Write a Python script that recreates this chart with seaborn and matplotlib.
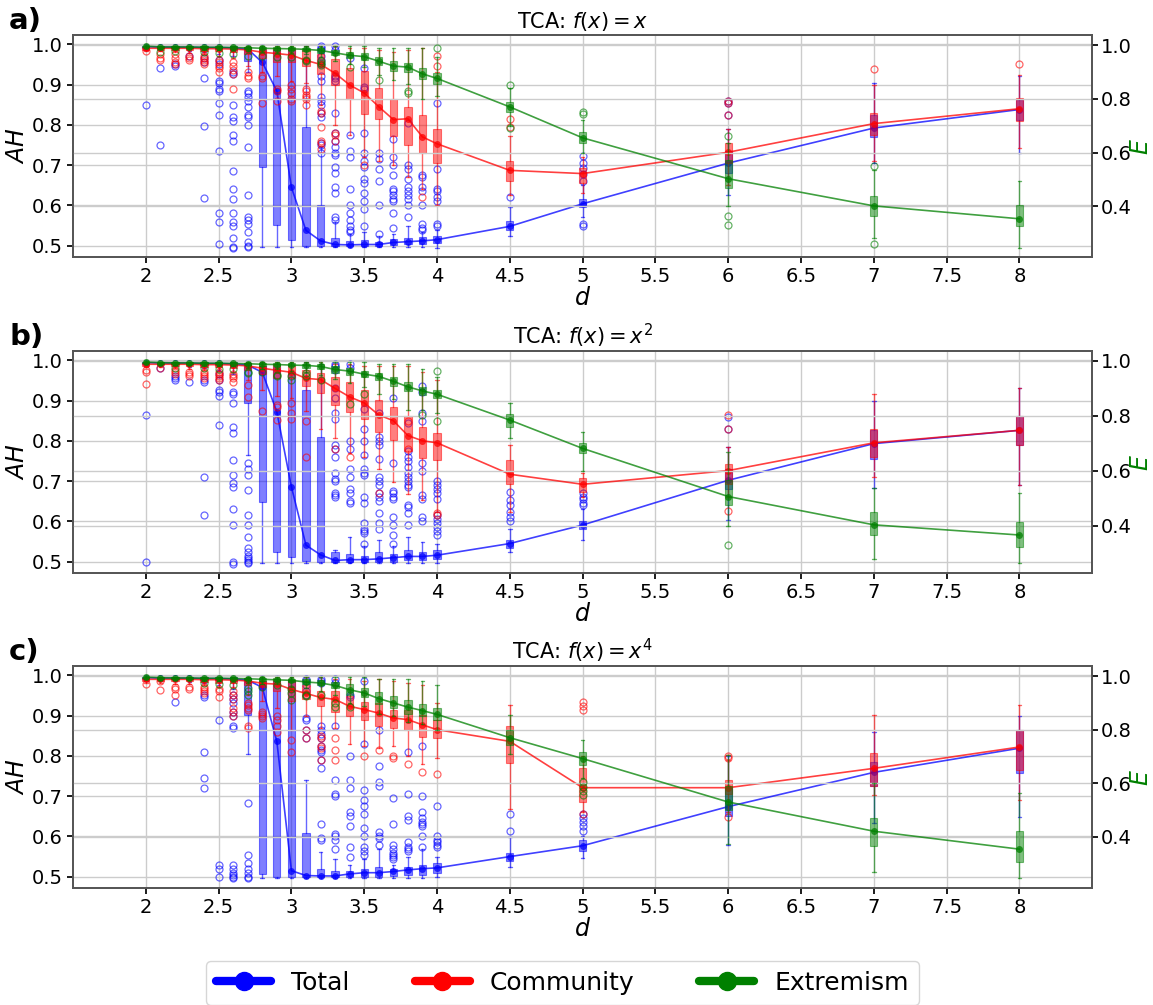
import matplotlib
matplotlib.use("Agg")
import matplotlib.pyplot as plt
from matplotlib.lines import Line2D
from matplotlib.ticker import FormatStrFormatter
import seaborn as sns

sns.set_theme(style="ticks", rc={"xtick.major.size": 4, "ytick.major.size": 4,
                                 "text.color": "black", "axes.labelcolor": "black",
                                 "xtick.color": "black", "ytick.color": "black"})
plt.rcParams["font.family"] = ["DejaVu Sans"]

D = [2.0, 2.1, 2.2, 2.3, 2.4, 2.5, 2.6, 2.7, 2.8, 2.9, 3.0, 3.1, 3.2, 3.3, 3.4,
     3.5, 3.6, 3.7, 3.8, 3.9, 4.0, 4.5, 5.0, 6.0, 7.0, 8.0]

# each row: (whisker low, q1, median, q3, whisker high)
# ---------------- a) f(x) = x ----------------
a_total = [
    (0.986, 0.991, 0.994, 0.996, 0.998), (0.985, 0.990, 0.993, 0.995, 0.998),
    (0.985, 0.990, 0.993, 0.995, 0.998), (0.984, 0.990, 0.993, 0.995, 0.998),
    (0.980, 0.989, 0.992, 0.995, 0.998), (0.975, 0.988, 0.992, 0.995, 0.998),
    (0.970, 0.985, 0.991, 0.995, 0.998), (0.930, 0.958, 0.988, 0.993, 0.998),
    (0.497, 0.695, 0.955, 0.985, 0.998), (0.497, 0.552, 0.884, 0.985, 0.998),
    (0.497, 0.513, 0.645, 0.985, 0.998), (0.496, 0.500, 0.538, 0.794, 0.995),
    (0.496, 0.500, 0.512, 0.600, 0.745), (0.496, 0.500, 0.503, 0.520, 0.560),
    (0.496, 0.500, 0.502, 0.512, 0.530), (0.496, 0.500, 0.503, 0.515, 0.535),
    (0.496, 0.500, 0.503, 0.510, 0.525), (0.496, 0.502, 0.508, 0.516, 0.530),
    (0.496, 0.503, 0.510, 0.520, 0.550), (0.496, 0.505, 0.512, 0.521, 0.535),
    (0.495, 0.506, 0.515, 0.525, 0.540), (0.525, 0.538, 0.548, 0.562, 0.597),
    (0.570, 0.595, 0.604, 0.617, 0.650), (0.625, 0.680, 0.705, 0.735, 0.790),
    (0.705, 0.770, 0.792, 0.825, 0.905), (0.730, 0.812, 0.838, 0.862, 0.920),
]
a_total_out = [
    [0.85], [0.94, 0.75], [0.945, 0.95], [0.97], [0.917, 0.797, 0.619, 0.955, 0.965],
    [0.91, 0.905, 0.89, 0.885, 0.855, 0.825, 0.735, 0.58, 0.56, 0.505, 0.95, 0.96],
    [0.93, 0.925, 0.85, 0.82, 0.81, 0.775, 0.76, 0.685, 0.64, 0.615, 0.58, 0.56, 0.55, 0.52, 0.497, 0.495],
    [0.885, 0.88, 0.87, 0.86, 0.845, 0.825, 0.82, 0.80, 0.745, 0.625, 0.57, 0.565, 0.555, 0.535, 0.51, 0.50, 0.497],
    [], [], [], [],
    [0.755, 0.75, 0.73, 0.83, 0.82, 0.85, 0.86, 0.87, 0.91, 0.92, 0.95, 0.96, 0.97, 0.985, 0.99, 0.995],
    [0.565, 0.57, 0.63, 0.645, 0.68, 0.695, 0.725, 0.73, 0.745, 0.76, 0.78, 0.83, 0.91, 0.915, 0.92, 0.985, 0.995],
    [0.535, 0.54, 0.55, 0.565, 0.58, 0.60, 0.64, 0.72, 0.735, 0.775, 0.965],
    [0.55, 0.59, 0.61, 0.63, 0.655, 0.665, 0.695, 0.71, 0.73, 0.78, 0.89, 0.895, 0.94],
    [0.53, 0.60, 0.66, 0.69, 0.715, 0.73],
    [0.545, 0.58, 0.61, 0.615, 0.625, 0.635, 0.64, 0.675, 0.70, 0.72, 0.765],
    [0.57, 0.60, 0.615, 0.625, 0.635, 0.645, 0.665, 0.69, 0.70, 0.805],
    [0.54, 0.545, 0.555, 0.60, 0.635, 0.645, 0.67, 0.675],
    [0.55, 0.555, 0.61, 0.62, 0.635, 0.64, 0.69, 0.855],
    [0.62], [0.555, 0.55, 0.66, 0.677, 0.694, 0.706, 0.722], [0.86, 0.855, 0.825], [], [],
]
a_comm = [
    (0.983, 0.986, 0.990, 0.993, 0.996), (0.982, 0.986, 0.990, 0.993, 0.996),
    (0.980, 0.986, 0.990, 0.993, 0.996), (0.978, 0.985, 0.990, 0.993, 0.996),
    (0.975, 0.984, 0.989, 0.993, 0.996), (0.970, 0.982, 0.989, 0.993, 0.996),
    (0.965, 0.980, 0.988, 0.992, 0.996), (0.945, 0.975, 0.986, 0.992, 0.996),
    (0.930, 0.965, 0.980, 0.988, 0.996), (0.920, 0.955, 0.977, 0.990, 0.996),
    (0.910, 0.955, 0.973, 0.990, 0.996), (0.905, 0.945, 0.960, 0.985, 0.996),
    (0.850, 0.925, 0.950, 0.975, 0.995), (0.800, 0.898, 0.928, 0.963, 0.995),
    (0.775, 0.865, 0.899, 0.942, 0.990), (0.720, 0.826, 0.879, 0.934, 0.990),
    (0.710, 0.815, 0.845, 0.892, 0.985), (0.700, 0.772, 0.813, 0.865, 0.980),
    (0.670, 0.751, 0.815, 0.844, 0.985), (0.640, 0.729, 0.770, 0.824, 0.990),
    (0.600, 0.706, 0.753, 0.790, 0.930), (0.626, 0.660, 0.687, 0.711, 0.773),
    (0.630, 0.655, 0.679, 0.693, 0.720), (0.650, 0.706, 0.732, 0.755, 0.790),
    (0.711, 0.775, 0.803, 0.830, 0.900), (0.742, 0.810, 0.840, 0.866, 0.923),
]
a_comm_out = [
    [0.982], [0.96, 0.965, 0.975], [0.95, 0.955, 0.965, 0.975], [0.96, 0.965, 0.97],
    [0.95, 0.955, 0.96, 0.965, 0.97], [0.93, 0.94, 0.945, 0.955, 0.96],
    [0.888, 0.925, 0.935, 0.945, 0.955], [0.915, 0.92, 0.93], [0.855, 0.915, 0.92],
    [0.86, 0.885, 0.89], [0.86, 0.865, 0.88, 0.89, 0.90], [0.85, 0.865, 0.87, 0.875, 0.885, 0.89],
    [0.835, 0.83, 0.795, 0.76, 0.755, 0.74], [0.78, 0.775, 0.76], [], [0.70], [], [], [],
    [0.62], [0.946, 0.97], [0.795, 0.815], [], [0.855, 0.86, 0.825], [0.938], [0.952],
]
a_ext = [
    (0.990, 0.993, 0.996, 0.998, 0.999), (0.985, 0.990, 0.993, 0.996, 0.998),
    (0.985, 0.990, 0.993, 0.996, 0.998), (0.985, 0.990, 0.993, 0.996, 0.998),
    (0.983, 0.989, 0.992, 0.995, 0.998), (0.980, 0.988, 0.992, 0.995, 0.998),
    (0.980, 0.987, 0.991, 0.995, 0.998), (0.978, 0.986, 0.990, 0.994, 0.998),
    (0.975, 0.984, 0.988, 0.993, 0.998), (0.970, 0.982, 0.987, 0.992, 0.998),
    (0.970, 0.981, 0.986, 0.992, 0.998), (0.965, 0.978, 0.984, 0.990, 0.998),
    (0.955, 0.972, 0.980, 0.988, 0.998), (0.940, 0.962, 0.971, 0.982, 0.998),
    (0.930, 0.952, 0.962, 0.975, 0.995), (0.920, 0.945, 0.957, 0.970, 0.995),
    (0.890, 0.925, 0.940, 0.955, 0.990), (0.870, 0.905, 0.922, 0.940, 0.990),
    (0.855, 0.900, 0.918, 0.935, 0.990), (0.800, 0.875, 0.893, 0.915, 0.990),
    (0.810, 0.855, 0.876, 0.895, 0.955), (0.698, 0.750, 0.770, 0.790, 0.840),
    (0.600, 0.635, 0.655, 0.675, 0.720), (0.400, 0.468, 0.503, 0.574, 0.636),
    (0.282, 0.366, 0.402, 0.437, 0.537), (0.245, 0.328, 0.354, 0.404, 0.493),
]
a_ext_out = [
    [], [0.975], [0.978], [], [0.975], [0.97], [0.965], [0.96], [0.96], [0.955], [0.955],
    [0.94, 0.945], [0.925, 0.935, 0.94], [], [0.92], [], [0.87], [], [0.822, 0.83], [],
    [0.99], [0.853, 0.69], [0.745, 0.75], [0.66, 0.365, 0.332], [0.549, 0.26], [],
]

# ---------------- b) f(x) = x^2 ----------------
b_total = [
    (0.986, 0.991, 0.994, 0.996, 0.998), (0.985, 0.990, 0.993, 0.995, 0.998),
    (0.985, 0.990, 0.993, 0.995, 0.998), (0.984, 0.990, 0.993, 0.995, 0.998),
    (0.980, 0.989, 0.992, 0.995, 0.998), (0.975, 0.988, 0.992, 0.995, 0.998),
    (0.965, 0.985, 0.991, 0.995, 0.998), (0.765, 0.894, 0.988, 0.993, 0.998),
    (0.497, 0.649, 0.970, 0.985, 0.998), (0.497, 0.525, 0.872, 0.982, 0.998),
    (0.497, 0.512, 0.686, 0.970, 0.998), (0.497, 0.502, 0.541, 0.926, 0.995),
    (0.497, 0.500, 0.517, 0.810, 0.990), (0.497, 0.500, 0.503, 0.525, 0.530),
    (0.497, 0.500, 0.505, 0.520, 0.562), (0.497, 0.500, 0.505, 0.515, 0.540),
    (0.497, 0.500, 0.507, 0.525, 0.555), (0.497, 0.500, 0.510, 0.520, 0.540),
    (0.497, 0.505, 0.513, 0.530, 0.560), (0.497, 0.505, 0.513, 0.525, 0.548),
    (0.497, 0.507, 0.516, 0.530, 0.545), (0.525, 0.535, 0.545, 0.555, 0.580),
    (0.554, 0.580, 0.591, 0.602, 0.630), (0.603, 0.680, 0.702, 0.730, 0.785),
    (0.682, 0.756, 0.793, 0.826, 0.900), (0.690, 0.790, 0.826, 0.862, 0.930),
]
b_total_out = [
    [0.865, 0.50], [0.98], [0.95, 0.955, 0.96], [0.945], [0.945, 0.95, 0.71, 0.617],
    [0.92, 0.925, 0.91, 0.84, 0.95, 0.965],
    [0.92, 0.915, 0.895, 0.835, 0.82, 0.752, 0.715, 0.695, 0.685, 0.63, 0.59, 0.50, 0.495],
    [0.745, 0.73, 0.715, 0.678, 0.615, 0.59, 0.56, 0.535, 0.525, 0.515, 0.51, 0.505, 0.50, 0.497],
    [], [], [], [], [],
    [0.66, 0.665, 0.67, 0.70, 0.705, 0.72, 0.76, 0.78, 0.79, 0.855, 0.87, 0.905, 0.93, 0.975, 0.985, 0.99],
    [0.645, 0.65, 0.67, 0.68, 0.71, 0.73, 0.78, 0.80, 0.98, 0.99],
    [0.545, 0.57, 0.575, 0.58, 0.595, 0.645, 0.66, 0.715, 0.72, 0.73, 0.765, 0.80, 0.83, 0.88],
    [0.58, 0.595, 0.62, 0.65, 0.66, 0.67, 0.69, 0.70, 0.71, 0.755, 0.79, 0.80, 0.81, 0.87],
    [0.545, 0.565, 0.59, 0.61, 0.655, 0.66, 0.67, 0.675, 0.745, 0.905],
    [0.59, 0.62, 0.635, 0.64, 0.685, 0.69, 0.70, 0.71, 0.72, 0.735, 0.75, 0.76, 0.775, 0.845],
    [0.60, 0.61, 0.655, 0.665, 0.725, 0.745, 0.85, 0.87, 0.92, 0.935],
    [0.565, 0.575, 0.585, 0.595, 0.605, 0.615, 0.655, 0.67, 0.68, 0.69, 0.70],
    [0.60, 0.612, 0.624, 0.64, 0.653, 0.673], [0.64, 0.645, 0.655, 0.66, 0.67],
    [0.83, 0.86], [], [],
]
b_comm = [
    (0.982, 0.986, 0.990, 0.993, 0.996), (0.984, 0.987, 0.990, 0.993, 0.996),
    (0.980, 0.986, 0.990, 0.993, 0.996), (0.978, 0.985, 0.990, 0.993, 0.996),
    (0.975, 0.984, 0.989, 0.993, 0.996), (0.972, 0.982, 0.989, 0.993, 0.996),
    (0.970, 0.980, 0.988, 0.992, 0.996), (0.950, 0.975, 0.986, 0.992, 0.996),
    (0.925, 0.965, 0.980, 0.986, 0.996), (0.910, 0.955, 0.975, 0.990, 0.996),
    (0.905, 0.955, 0.970, 0.985, 0.996), (0.875, 0.935, 0.955, 0.975, 0.995),
    (0.830, 0.919, 0.952, 0.969, 0.995), (0.806, 0.888, 0.930, 0.959, 0.990),
    (0.770, 0.872, 0.909, 0.946, 0.990), (0.760, 0.855, 0.894, 0.926, 0.985),
    (0.730, 0.822, 0.864, 0.902, 0.985), (0.698, 0.802, 0.850, 0.883, 0.985),
    (0.667, 0.775, 0.813, 0.861, 0.985), (0.652, 0.758, 0.800, 0.835, 0.970),
    (0.624, 0.752, 0.795, 0.820, 0.950), (0.624, 0.694, 0.717, 0.752, 0.790),
    (0.660, 0.674, 0.692, 0.707, 0.720), (0.660, 0.694, 0.726, 0.742, 0.785),
    (0.711, 0.760, 0.795, 0.830, 0.915), (0.690, 0.790, 0.826, 0.862, 0.931),
]
b_comm_out = [
    [0.94, 0.97, 0.975], [0.98], [0.965, 0.97, 0.975], [0.96, 0.965, 0.97],
    [0.955, 0.96, 0.965, 0.97], [0.95, 0.955, 0.96, 0.965, 0.97], [0.945, 0.955, 0.96, 0.965],
    [0.909, 0.938], [0.874], [0.851, 0.885, 0.89], [0.855, 0.87, 0.895], [0.85, 0.76], [],
    [0.78], [0.76], [], [0.67], [], [0.85, 0.78], [], [0.615, 0.62], [], [],
    [0.864, 0.83, 0.626], [], [],
]
b_ext = [
    (0.990, 0.993, 0.996, 0.998, 0.999), (0.985, 0.990, 0.994, 0.996, 0.998),
    (0.985, 0.990, 0.993, 0.996, 0.998), (0.985, 0.990, 0.993, 0.996, 0.998),
    (0.983, 0.989, 0.992, 0.995, 0.998), (0.980, 0.988, 0.992, 0.995, 0.998),
    (0.980, 0.987, 0.991, 0.995, 0.998), (0.975, 0.985, 0.990, 0.994, 0.998),
    (0.972, 0.983, 0.988, 0.993, 0.998), (0.970, 0.982, 0.987, 0.992, 0.998),
    (0.965, 0.980, 0.985, 0.991, 0.998), (0.960, 0.976, 0.984, 0.990, 0.998),
    (0.950, 0.970, 0.980, 0.988, 0.998), (0.935, 0.958, 0.969, 0.980, 0.997),
    (0.920, 0.950, 0.963, 0.975, 0.995), (0.905, 0.940, 0.952, 0.965, 0.995),
    (0.880, 0.930, 0.944, 0.958, 0.990), (0.860, 0.910, 0.926, 0.943, 0.990),
    (0.820, 0.890, 0.906, 0.925, 0.990), (0.820, 0.875, 0.891, 0.905, 0.970),
    (0.810, 0.865, 0.879, 0.895, 0.940), (0.720, 0.761, 0.785, 0.807, 0.848),
    (0.600, 0.664, 0.682, 0.700, 0.740), (0.398, 0.476, 0.507, 0.567, 0.670),
    (0.280, 0.367, 0.404, 0.449, 0.537), (0.266, 0.325, 0.367, 0.416, 0.519),
]
b_ext_out = [
    [], [], [0.975], [], [0.975], [0.97], [0.97], [0.955, 0.96], [0.96], [0.945, 0.95],
    [0.93, 0.945], [0.945, 0.955], [0.93], [], [0.843], [0.879], [], [], [], [0.803],
    [0.962, 0.782], [], [], [0.329], [], [],
]

# ---------------- c) f(x) = x^4 ----------------
c_total = [
    (0.986, 0.991, 0.994, 0.996, 0.998), (0.985, 0.990, 0.993, 0.995, 0.998),
    (0.985, 0.990, 0.993, 0.995, 0.998), (0.984, 0.990, 0.993, 0.995, 0.998),
    (0.980, 0.989, 0.992, 0.995, 0.998), (0.975, 0.988, 0.992, 0.995, 0.998),
    (0.965, 0.985, 0.991, 0.995, 0.998), (0.805, 0.902, 0.988, 0.993, 0.998),
    (0.497, 0.508, 0.970, 0.985, 0.998), (0.497, 0.500, 0.836, 0.985, 0.998),
    (0.497, 0.500, 0.515, 0.985, 0.998), (0.497, 0.500, 0.503, 0.609, 0.740),
    (0.497, 0.500, 0.502, 0.520, 0.562), (0.497, 0.500, 0.502, 0.515, 0.545),
    (0.497, 0.500, 0.507, 0.515, 0.530), (0.497, 0.500, 0.510, 0.520, 0.545),
    (0.497, 0.500, 0.510, 0.525, 0.570), (0.497, 0.502, 0.513, 0.520, 0.530),
    (0.497, 0.505, 0.517, 0.525, 0.550), (0.497, 0.505, 0.520, 0.530, 0.570),
    (0.500, 0.510, 0.522, 0.535, 0.550), (0.523, 0.540, 0.550, 0.560, 0.598),
    (0.547, 0.565, 0.577, 0.590, 0.600), (0.579, 0.650, 0.674, 0.720, 0.800),
    (0.633, 0.724, 0.759, 0.784, 0.860), (0.649, 0.757, 0.819, 0.865, 0.900),
]
c_total_out = [
    [], [], [0.933], [], [0.95, 0.945, 0.81, 0.746, 0.72], [0.888, 0.53, 0.52, 0.50],
    [0.95, 0.94, 0.93, 0.91, 0.90, 0.875, 0.87, 0.53, 0.52, 0.51, 0.505, 0.50, 0.497],
    [0.682, 0.555, 0.535, 0.52, 0.51, 0.50, 0.497],
    [], [], [],
    [0.845, 0.865, 0.89, 0.895, 0.95, 0.96, 0.975, 0.985, 0.99],
    [0.59, 0.595, 0.63, 0.77, 0.79, 0.81, 0.815, 0.825, 0.845, 0.855, 0.865, 0.875, 0.98, 0.985, 0.99],
    [0.57, 0.59, 0.60, 0.605, 0.70, 0.705, 0.74, 0.875, 0.98, 0.99],
    [0.55, 0.575, 0.625, 0.65, 0.66, 0.72, 0.74, 0.80, 0.945, 0.95],
    [0.555, 0.565, 0.575, 0.60, 0.62, 0.655, 0.675, 0.69, 0.715, 0.83, 0.985],
    [0.58, 0.595, 0.60, 0.61, 0.725, 0.735, 0.775, 0.865],
    [0.545, 0.55, 0.555, 0.56, 0.57, 0.58, 0.63, 0.695],
    [0.565, 0.57, 0.575, 0.585, 0.64, 0.65, 0.705, 0.81],
    [0.575, 0.60, 0.625, 0.63, 0.635, 0.645, 0.66, 0.70, 0.825],
    [0.575, 0.58, 0.585, 0.59, 0.60, 0.675],
    [0.614, 0.655], [0.614, 0.625, 0.635, 0.645, 0.655], [], [], [],
]
c_comm = [
    (0.980, 0.985, 0.990, 0.993, 0.996), (0.982, 0.986, 0.990, 0.993, 0.996),
    (0.978, 0.985, 0.990, 0.993, 0.996), (0.978, 0.985, 0.990, 0.993, 0.996),
    (0.975, 0.984, 0.989, 0.993, 0.996), (0.972, 0.982, 0.989, 0.993, 0.996),
    (0.970, 0.980, 0.988, 0.992, 0.996), (0.950, 0.975, 0.986, 0.992, 0.996),
    (0.935, 0.970, 0.980, 0.986, 0.996), (0.920, 0.960, 0.978, 0.990, 0.996),
    (0.865, 0.935, 0.965, 0.989, 0.996), (0.900, 0.940, 0.955, 0.975, 0.996),
    (0.870, 0.923, 0.945, 0.960, 0.995), (0.870, 0.910, 0.940, 0.960, 0.990),
    (0.830, 0.898, 0.923, 0.948, 0.990), (0.825, 0.890, 0.915, 0.933, 0.985),
    (0.820, 0.873, 0.906, 0.930, 0.990), (0.825, 0.870, 0.894, 0.915, 0.985),
    (0.800, 0.865, 0.890, 0.915, 0.980), (0.780, 0.848, 0.877, 0.902, 0.975),
    (0.795, 0.844, 0.865, 0.890, 0.930), (0.668, 0.783, 0.836, 0.873, 0.927),
    (0.660, 0.686, 0.721, 0.770, 0.800), (0.660, 0.705, 0.721, 0.740, 0.790),
    (0.703, 0.724, 0.769, 0.807, 0.902), (0.691, 0.765, 0.822, 0.865, 0.927),
]
c_comm_out = [
    [0.978], [0.964, 0.985], [0.95, 0.965, 0.97], [0.965, 0.97], [0.955, 0.96, 0.965, 0.97],
    [0.945, 0.96, 0.965], [0.90, 0.91, 0.92, 0.94, 0.95, 0.96],
    [0.87, 0.875, 0.915, 0.92, 0.925, 0.93], [0.895, 0.90, 0.905, 0.91],
    [0.86, 0.875, 0.89, 0.90], [0.81, 0.84], [0.845, 0.865],
    [0.79, 0.82, 0.825, 0.845, 0.85], [0.79, 0.815, 0.845], [], [0.80], [0.815],
    [0.795, 0.80], [0.78], [0.76], [0.755], [], [0.913, 0.923, 0.933, 0.655],
    [0.795, 0.80, 0.649], [], [],
]
c_ext = [
    (0.990, 0.993, 0.996, 0.998, 0.999), (0.985, 0.990, 0.994, 0.996, 0.998),
    (0.985, 0.990, 0.993, 0.996, 0.998), (0.985, 0.990, 0.993, 0.996, 0.998),
    (0.983, 0.989, 0.992, 0.995, 0.998), (0.980, 0.988, 0.992, 0.995, 0.998),
    (0.980, 0.987, 0.991, 0.995, 0.998), (0.975, 0.985, 0.990, 0.994, 0.998),
    (0.972, 0.983, 0.988, 0.993, 0.998), (0.970, 0.982, 0.986, 0.992, 0.998),
    (0.960, 0.978, 0.984, 0.990, 0.998), (0.955, 0.970, 0.978, 0.988, 0.998),
    (0.945, 0.965, 0.974, 0.985, 0.998), (0.930, 0.955, 0.965, 0.978, 0.998),
    (0.900, 0.930, 0.949, 0.970, 0.995), (0.890, 0.920, 0.937, 0.955, 0.995),
    (0.860, 0.895, 0.916, 0.940, 0.990), (0.850, 0.880, 0.900, 0.925, 0.990),
    (0.830, 0.860, 0.884, 0.910, 0.990), (0.820, 0.850, 0.871, 0.895, 0.980),
    (0.800, 0.835, 0.857, 0.880, 0.965), (0.710, 0.742, 0.770, 0.800, 0.853),
    (0.620, 0.667, 0.692, 0.717, 0.763), (0.375, 0.500, 0.530, 0.590, 0.704),
    (0.267, 0.365, 0.421, 0.472, 0.600), (0.245, 0.307, 0.354, 0.421, 0.564),
]
c_ext_out = [
    [], [], [], [], [0.975], [0.97], [0.965], [0.93, 0.945, 0.955], [0.96], [0.965],
    [0.91, 0.935, 0.95], [0.925, 0.93], [0.93], [0.885, 0.90], [0.885], [], [], [], [],
    [], [], [], [0.605, 0.585, 0.57, 0.555], [], [], [],
]

panels = [
    ("a)", r"TCA: $f(x) = x$", a_total, a_total_out, a_comm, a_comm_out, a_ext, a_ext_out, (0.212, 1.036)),
    ("b)", r"TCA: $f(x) = x^2$", b_total, b_total_out, b_comm, b_comm_out, b_ext, b_ext_out, (0.229, 1.035)),
    ("c)", r"TCA: $f(x) = x^4$", c_total, c_total_out, c_comm, c_comm_out, c_ext, c_ext_out, (0.209, 1.036)),
]

XTICKS = [2, 2.5, 3, 3.5, 4, 4.5, 5, 5.5, 6, 6.5, 7, 7.5, 8]
GRID = "#cccccc"


def draw_series(ax, rows, outs, color):
    rgba = matplotlib.colors.to_rgba(color)
    stats = [dict(whislo=r[0], q1=r[1], med=r[2], q3=r[3], whishi=r[4], fliers=o)
             for r, o in zip(rows, outs)]
    ax.bxp(stats, positions=D, widths=0.05, capwidths=0.025, patch_artist=True,
           manage_ticks=False,
           boxprops=dict(facecolor=rgba[:3] + (0.5,), edgecolor=rgba[:3] + (0.5,), linewidth=0.8),
           whiskerprops=dict(color=color, alpha=0.6, linewidth=1),
           capprops=dict(color=color, alpha=0.6, linewidth=1),
           medianprops=dict(linewidth=0),
           flierprops=dict(marker="o", markerfacecolor="none", markeredgecolor=color,
                           alpha=0.6, markersize=5, markeredgewidth=0.9))
    sns.lineplot(x=D, y=[r[2] for r in rows], ax=ax, color=color, linewidth=1.2,
                 alpha=0.75, marker="o", markersize=5, markeredgewidth=0)


fig = plt.figure(figsize=(11.53, 10.05), dpi=100)
bottoms = [0.7443, 0.4299, 0.1164]

for (lab, title, tot, tot_o, com, com_o, ext, ext_o, elim), b in zip(panels, bottoms):
    ax = fig.add_axes([0.0633, b, 0.884, 0.2205])
    ax.set_axisbelow(True)
    draw_series(ax, tot, tot_o, "blue")
    draw_series(ax, com, com_o, "red")
    ax.set_xlim(1.5, 8.5)
    ax.set_ylim(0.472, 1.022)
    ax.set_xticks(XTICKS)
    ax.xaxis.set_major_formatter(FormatStrFormatter("%g"))
    ax.set_yticks([0.5, 0.6, 0.7, 0.8, 0.9, 1.0])
    ax.yaxis.set_major_formatter(FormatStrFormatter("%.1f"))
    ax.grid(True, color=GRID, linewidth=1)
    ax.tick_params(labelsize=14)
    ax.set_xlabel(r"$d$", fontsize=17, labelpad=0)
    ax.set_ylabel(r"$AH$", fontsize=17, labelpad=2)
    ax.set_title(title, fontsize=15, pad=5)
    for s in ax.spines.values():
        s.set_color("#555555")

    ax2 = ax.twinx()
    draw_series(ax2, ext, ext_o, "green")
    ax2.set_ylim(*elim)
    ax2.set_xlim(1.5, 8.5)
    ax2.set_yticks([0.4, 0.6, 0.8, 1.0])
    ax2.yaxis.set_major_formatter(FormatStrFormatter("%.1f"))
    ax2.grid(True, axis="y", color=GRID, linewidth=1)
    ax2.tick_params(labelsize=14, pad=2)
    ax2.set_ylabel(r"$E$", fontsize=17, color="green", labelpad=-2)
    for s in ax2.spines.values():
        s.set_color("#555555")

    fig.text(0.008, b + 0.2205 + 0.028, lab, fontsize=21, fontweight="bold", va="top")

handles = [
    Line2D([0], [0], color="blue", lw=6, marker="o", markersize=13, label="Total"),
    Line2D([0], [0], color="red", lw=6, marker="o", markersize=13, label="Community"),
    Line2D([0], [0], color="green", lw=6, marker="o", markersize=13, label="Extremism"),
]
fig.legend(handles=handles, loc="upper center", bbox_to_anchor=(0.488, 0.044), ncol=3,
           fontsize=18, frameon=True, handlelength=2.2, columnspacing=2.6,
           borderaxespad=0)

fig.savefig("out.png", dpi=100)
